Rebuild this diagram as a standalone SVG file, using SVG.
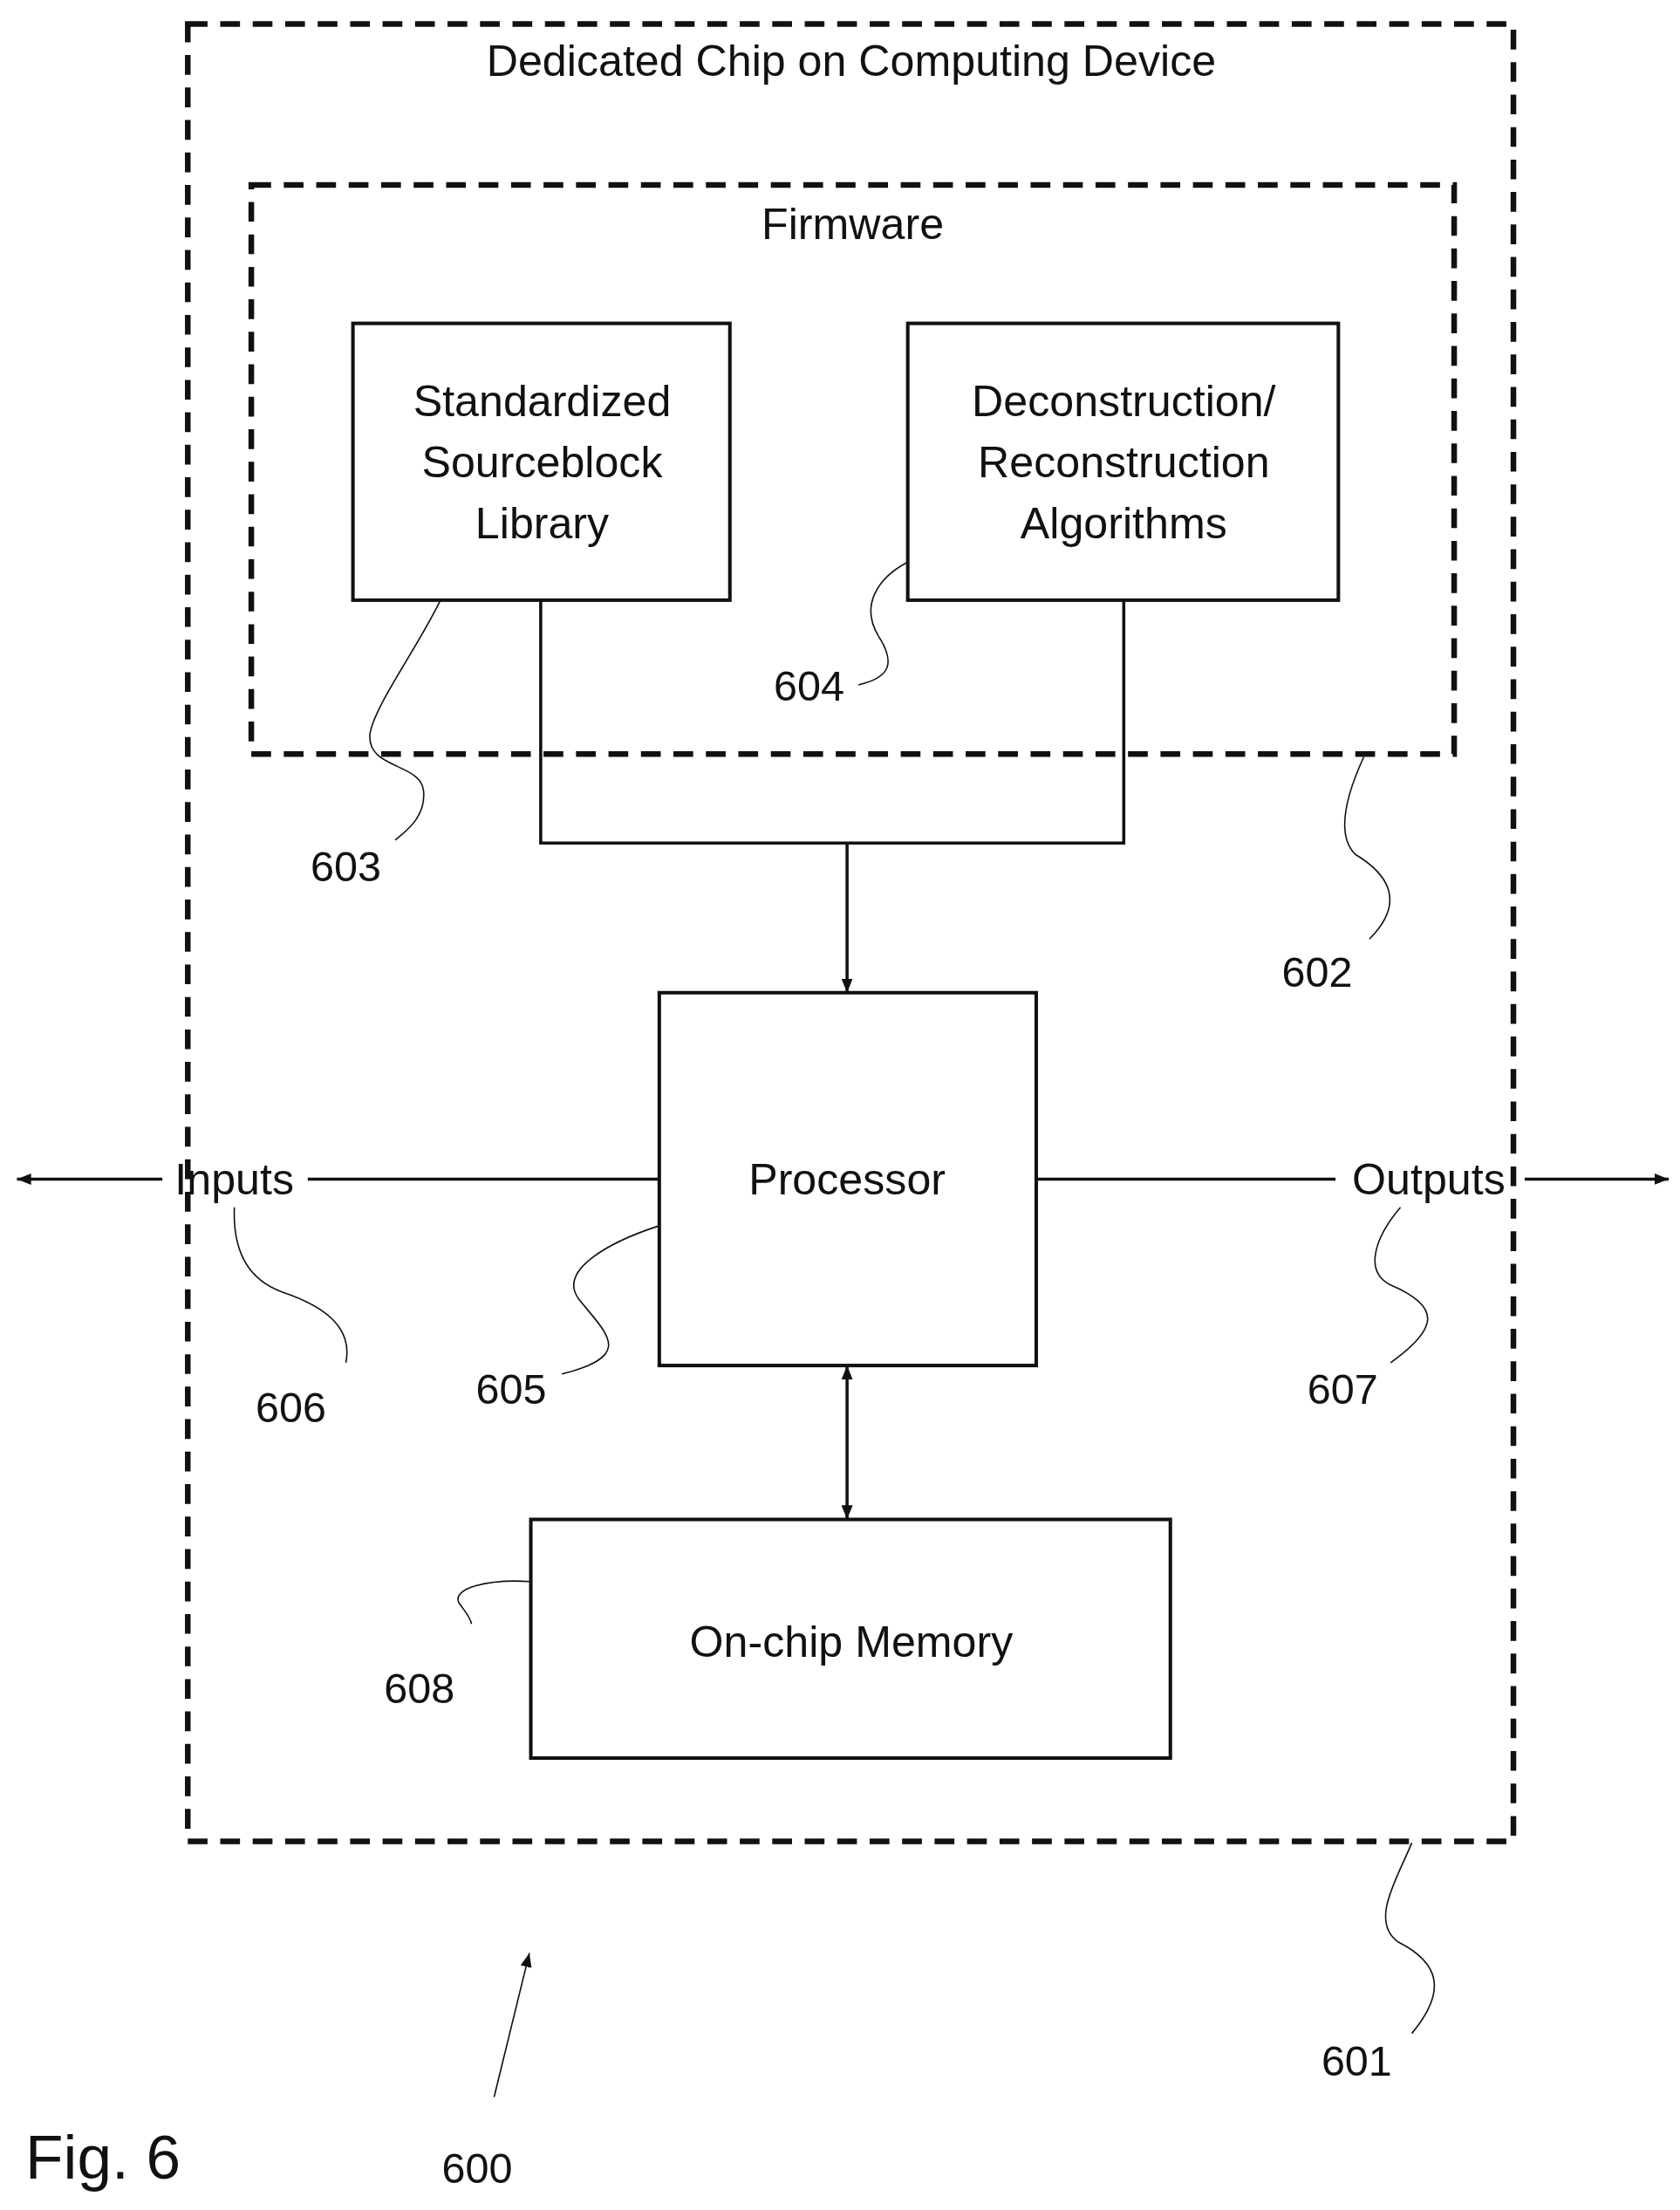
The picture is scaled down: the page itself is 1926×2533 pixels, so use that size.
<svg xmlns="http://www.w3.org/2000/svg" width="1926" height="2533" viewBox="0 0 1926 2533">
<style>
text{font-family:"Liberation Sans",Arial,sans-serif;fill:#111;text-anchor:middle}
.b{font-size:31px}
.n{font-size:30px}
.box{fill:none;stroke:#111;stroke-width:2.5}
.dash{fill:none;stroke:#111;stroke-width:4;stroke-dasharray:14 9}
.ln{fill:none;stroke:#111;stroke-width:2.2}
.ld{fill:none;stroke:#111;stroke-width:1}
</style>
<defs>
<marker id="ah" viewBox="0 0 10 10" refX="10" refY="5" markerWidth="10" markerHeight="10" markerUnits="userSpaceOnUse" orient="auto-start-reverse"><path d="M0,1 L10,5 L0,9 z" fill="#111"/></marker>
</defs>
<rect width="1926" height="2533" fill="#fff"/>
<g transform="scale(1.6185)">
<g id="chip601"><rect class="dash" x="133" y="17" width="939" height="1287"/><text class="b" x="603" y="54">Dedicated Chip on Computing Device</text></g>
<g id="firmware602"><rect class="dash" x="178" y="131" width="852" height="403"/><text class="b" x="604" y="169">Firmware</text></g>
<g id="lib603"><rect class="box" x="250" y="229" width="267" height="196"/><text class="b" x="384" y="295">Standardized</text><text class="b" x="384" y="338">Sourceblock</text><text class="b" x="384" y="381">Library</text></g>
<g id="algo604"><rect class="box" x="643" y="229" width="305" height="196"/><text class="b" x="796" y="295">Deconstruction/</text><text class="b" x="796" y="338">Reconstruction</text><text class="b" x="796" y="381">Algorithms</text></g>
<g id="proc605"><rect class="box" x="467" y="703" width="267" height="264"/><text class="b" x="600" y="846">Processor</text></g>
<g id="mem608"><rect class="box" x="376" y="1076" width="453" height="169"/><text class="b" x="603" y="1173">On-chip Memory</text></g>
<g id="connectors">
<path class="ln" d="M383,425 V597 H796 V425"/>
<path class="ln" d="M600,597 V703" marker-end="url(#ah)"/>
<path class="ln" d="M600,967 V1076" marker-start="url(#ah)" marker-end="url(#ah)"/>
<path class="ln" d="M467,835 H218"/>
<path class="ln" d="M115,835 H12" marker-end="url(#ah)"/>
<path class="ln" d="M734,835 H946"/>
<path class="ln" d="M1080,835 H1182" marker-end="url(#ah)"/>
<path class="ld" d="M350,1485 L375,1383" marker-end="url(#ah)"/>
</g>
<g id="labels">
<text class="b" x="166" y="846">Inputs</text>
<text class="b" x="1012" y="846">Outputs</text>
<path class="ld" d="M312,425 C295,460 265,500 262,520 C260,545 298,540 300,560 C302,580 285,590 280,595"/>
<path class="ld" d="M643,398 C620,410 610,430 622,450 C635,470 630,480 608,485"/>
<path class="ld" d="M966,536 C955,560 945,590 960,605 C985,620 995,640 970,665"/>
<path class="ld" d="M467,868 C430,880 395,900 410,920 C430,945 450,960 398,973"/>
<path class="ld" d="M166,855 C165,880 172,905 200,915 C230,925 250,940 245,965"/>
<path class="ld" d="M992,855 C975,875 965,900 985,910 C1020,925 1020,940 985,965"/>
<path class="ld" d="M376,1120 C345,1118 320,1125 325,1135 C330,1142 333,1145 334,1150"/>
<path class="ld" d="M1000,1305 C990,1330 970,1360 990,1375 C1020,1390 1025,1410 1000,1440"/>
<text class="n" x="245" y="624">603</text>
<text class="n" x="573" y="496">604</text>
<text class="n" x="933" y="699">602</text>
<text class="n" x="362" y="994">605</text>
<text class="n" x="206" y="1007">606</text>
<text class="n" x="951" y="994">607</text>
<text class="n" x="297" y="1206">608</text>
<text class="n" x="961" y="1470">601</text>
<text class="n" x="338" y="1546">600</text>
<text x="73" y="1543" style="font-size:44px">Fig. 6</text>
</g>
</g>
</svg>
